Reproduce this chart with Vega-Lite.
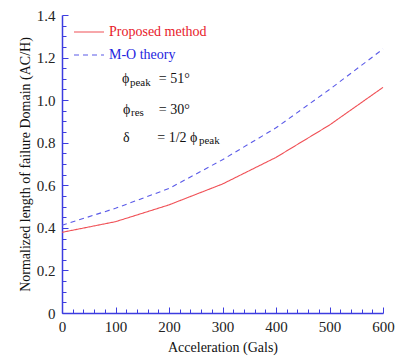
{
  "$schema": "https://vega.github.io/schema/vega-lite/v6.json",
  "width": 321,
  "height": 298,
  "autosize": {"type": "none"},
  "padding": {"left": 62, "top": 15, "right": 12, "bottom": 43},
  "background": "white",
  "config": {
    "view": {"stroke": null},
    "font": "Liberation Serif",
    "axis": {"grid": false, "domainColor": "#3c3ce0", "domainWidth": 1.5, "tickColor": "#3c3ce0", "tickWidth": 1,
      "labelFont": "Liberation Serif", "labelFontSize": 15, "labelColor": "#222",
      "titleFont": "Liberation Serif", "titleFontSize": 14, "titleFontWeight": "normal", "titleColor": "#111"}
  },
  "resolve": {"axis": {"x": "independent", "y": "independent"}},
  "datasets": {
    "curves": [
      {"acc": 0, "value": 0.379, "series": "Proposed method"},
      {"acc": 100, "value": 0.429, "series": "Proposed method"},
      {"acc": 200, "value": 0.508, "series": "Proposed method"},
      {"acc": 300, "value": 0.606, "series": "Proposed method"},
      {"acc": 400, "value": 0.731, "series": "Proposed method"},
      {"acc": 500, "value": 0.883, "series": "Proposed method"},
      {"acc": 600, "value": 1.06, "series": "Proposed method"},
      {"acc": 0, "value": 0.412, "series": "M-O theory"},
      {"acc": 100, "value": 0.492, "series": "M-O theory"},
      {"acc": 200, "value": 0.585, "series": "M-O theory"},
      {"acc": 300, "value": 0.72, "series": "M-O theory"},
      {"acc": 400, "value": 0.87, "series": "M-O theory"},
      {"acc": 500, "value": 1.05, "series": "M-O theory"},
      {"acc": 600, "value": 1.24, "series": "M-O theory"}
    ],
    "notes": [
      {"acc": 112, "value": 1.099, "t": "ϕ", "kind": "main"},
      {"acc": 127, "value": 1.080, "t": "peak", "kind": "sub"},
      {"acc": 181, "value": 1.099, "t": "= 51°", "kind": "main"},
      {"acc": 114, "value": 0.954, "t": "ϕ", "kind": "main"},
      {"acc": 129, "value": 0.939, "t": "res", "kind": "sub"},
      {"acc": 181, "value": 0.954, "t": "= 30°", "kind": "main"},
      {"acc": 114, "value": 0.822, "t": "δ", "kind": "main"},
      {"acc": 178, "value": 0.822, "t": "= 1/2 ϕ", "kind": "main"},
      {"acc": 256, "value": 0.808, "t": "peak", "kind": "sub"}
    ]
  },
  "layer": [
    {
      "data": {"name": "curves"},
      "mark": {"type": "line", "strokeWidth": 1.1},
      "encoding": {
        "x": {"field": "acc", "type": "quantitative",
          "scale": {"domain": [0, 600], "nice": false},
          "axis": {"orient": "bottom", "title": "Acceleration (Gals)", "titlePadding": 6,
            "values": [0, 100, 200, 300, 400, 500, 600], "tickSize": -6,
            "labelPadding": 12, "labelFlush": false, "labelOverlap": false}},
        "y": {"field": "value", "type": "quantitative",
          "scale": {"domain": [0, 1.4], "nice": false},
          "axis": {"orient": "left", "title": "Normalized length of failure Domain (AC/H)", "titlePadding": 4,
            "values": [0, 0.2, 0.4, 0.6, 0.8, 1.0, 1.2, 1.4], "tickSize": -6,
            "labelExpr": "datum.value == 0 ? '0' : format(datum.value, '.1f')",
            "labelPadding": 13, "labelFlush": false, "labelOverlap": false}},
        "color": {"field": "series", "type": "nominal",
          "scale": {"domain": ["Proposed method", "M-O theory"], "range": ["#f05056", "#5a5ae8"]},
          "legend": {"title": null, "orient": "none", "legendX": 11, "legendY": 1, "padding": 0,
            "symbolType": "stroke", "symbolSize": 900, "symbolStrokeWidth": 1.1,
            "labelFont": "Liberation Serif", "labelFontSize": 14, "labelOffset": 4, "rowPadding": -13,
            "encode": {"labels": {"update": {"fill": {"signal": "datum.label === 'Proposed method' ? '#e8202a' : '#2424e0'"}}}}}},
        "strokeDash": {"field": "series", "type": "nominal",
          "scale": {"domain": ["Proposed method", "M-O theory"], "range": [[1, 0], [5, 4]]},
          "legend": null}
      }
    },
    {
      "data": {"name": "notes"},
      "transform": [{"filter": "datum.kind == 'main'"}],
      "mark": {"type": "text", "align": "left", "baseline": "middle", "font": "Liberation Serif", "fontSize": 14, "color": "#111"},
      "encoding": {
        "x": {"field": "acc", "type": "quantitative",
          "axis": {"orient": "bottom", "title": null, "labels": false, "domain": false, "tickSize": -4,
            "values": [20,40,60,80,120,140,160,180,220,240,260,280,320,340,360,380,420,440,460,480,520,540,560,580]}},
        "y": {"field": "value", "type": "quantitative",
          "axis": {"orient": "left", "title": null, "labels": false, "domain": false, "tickSize": -4,
            "values": [0.05,0.1,0.15,0.25,0.3,0.35,0.45,0.5,0.55,0.65,0.7,0.75,0.85,0.9,0.95,1.05,1.1,1.15,1.25,1.3,1.35]}},
        "text": {"field": "t"}
      }
    },
    {
      "data": {"name": "notes"},
      "transform": [{"filter": "datum.kind == 'sub'"}],
      "mark": {"type": "text", "align": "left", "baseline": "middle", "font": "Liberation Serif", "fontSize": 11, "color": "#111"},
      "encoding": {
        "x": {"field": "acc", "type": "quantitative", "axis": null},
        "y": {"field": "value", "type": "quantitative", "axis": null},
        "text": {"field": "t"}
      }
    }
  ]
}
